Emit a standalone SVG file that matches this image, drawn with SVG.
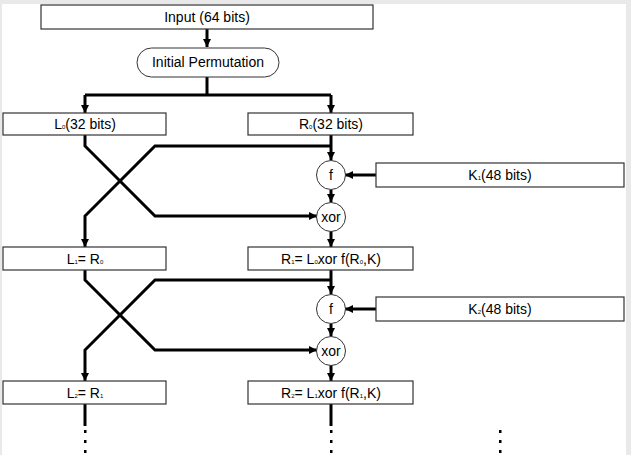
<svg xmlns="http://www.w3.org/2000/svg" width="631" height="455" viewBox="0 0 631 455">
  <style>
    .box { fill: #ffffff; stroke: #333333; stroke-width: 1.2; }
    .op { fill: #ffffff; stroke: #333333; stroke-width: 1; }
    .lbl { font-family: "Liberation Sans", Arial, sans-serif; font-size: 14px; fill: #000000; text-anchor: middle; }
    .sub { font-size: 6px; }
    .wire { fill: none; stroke: #000000; stroke-width: 3; stroke-linejoin: miter; }
    .dot { fill: #000000; }
  </style>
  <defs>
    <marker id="arrow" viewBox="0 0 8 8" refX="8" refY="4" markerWidth="8" markerHeight="8" markerUnits="userSpaceOnUse" orient="auto">
      <path d="M0,0 L8,4 L0,8 z" fill="#000000"/>
    </marker>
  </defs>

  <!-- page frame -->
  <rect x="0" y="0" width="631" height="455" fill="#e9e9e9"/>
  <rect x="2" y="4" width="624" height="451" fill="#ffffff"/>

  <!-- connectors -->
  <g id="connectors">
    <path class="wire" d="M207,29 V47" marker-end="url(#arrow)"/>
    <path class="wire" d="M207,77 V95 M85,95 H331"/>
    <path class="wire" d="M85,95 V113" marker-end="url(#arrow)"/>
    <path class="wire" d="M331,95 V113" marker-end="url(#arrow)"/>

    <!-- round 1 -->
    <path class="wire" d="M331,135 V160" marker-end="url(#arrow)"/>
    <path class="wire" d="M331,146 H155 L85,216 V247" marker-end="url(#arrow)"/>
    <path class="wire" d="M85,135 V146 L155,216 H317" marker-end="url(#arrow)"/>
    <path class="wire" d="M376,175 H345" marker-end="url(#arrow)"/>
    <path class="wire" d="M331,190 V202" marker-end="url(#arrow)"/>
    <path class="wire" d="M331,231 V247" marker-end="url(#arrow)"/>

    <!-- round 2 -->
    <path class="wire" d="M331,270 V294" marker-end="url(#arrow)"/>
    <path class="wire" d="M331,280 H155 L85,350 V381" marker-end="url(#arrow)"/>
    <path class="wire" d="M85,270 V280 L155,350 H317" marker-end="url(#arrow)"/>
    <path class="wire" d="M376,309 H345" marker-end="url(#arrow)"/>
    <path class="wire" d="M331,324 V336" marker-end="url(#arrow)"/>
    <path class="wire" d="M331,365 V381" marker-end="url(#arrow)"/>

    <!-- continuation -->
    <path class="wire" d="M85,404 V426 M331,404 V426"/>
  </g>

  <g id="continuation-dots">
    <rect class="dot" x="84" y="430" width="2.5" height="3"/>
    <rect class="dot" x="84" y="440" width="2.5" height="3"/>
    <rect class="dot" x="84" y="450" width="2.5" height="3"/>
    <rect class="dot" x="330" y="430" width="2.5" height="3"/>
    <rect class="dot" x="330" y="440" width="2.5" height="3"/>
    <rect class="dot" x="330" y="450" width="2.5" height="3"/>
    <rect class="dot" x="499" y="430" width="2.5" height="3"/>
    <rect class="dot" x="499" y="440" width="2.5" height="3"/>
    <rect class="dot" x="499" y="450" width="2.5" height="3"/>
  </g>

  <g id="input">
    <rect class="box" x="41" y="5" width="332" height="24"/>
    <text class="lbl" x="207" y="22">Input (64 bits)</text>
  </g>

  <g id="initial-permutation">
    <rect class="op" x="137" y="48" width="142" height="29" rx="14.5" ry="14.5"/>
    <text class="lbl" x="208" y="67">Initial Permutation</text>
  </g>

  <g id="L0">
    <rect class="box" x="3" y="113" width="163" height="22"/>
    <text class="lbl" x="85" y="129">L<tspan class="sub">0</tspan>(32 bits)</text>
  </g>

  <g id="R0">
    <rect class="box" x="248" y="113" width="165" height="22"/>
    <text class="lbl" x="331" y="129">R<tspan class="sub">0</tspan>(32 bits)</text>
  </g>

  <g id="f1">
    <circle class="op" cx="331" cy="175" r="14.5"/>
    <text class="lbl" x="331" y="180">f</text>
  </g>

  <g id="K1">
    <rect class="box" x="376" y="163" width="248" height="24"/>
    <text class="lbl" x="500" y="180">K<tspan class="sub">1</tspan>(48 bits)</text>
  </g>

  <g id="xor1">
    <circle class="op" cx="331" cy="217" r="14.5"/>
    <text class="lbl" x="331" y="222">xor</text>
  </g>

  <g id="L1">
    <rect class="box" x="3" y="247" width="163" height="23"/>
    <text class="lbl" x="85" y="264">L<tspan class="sub">1</tspan>= R<tspan class="sub">0</tspan></text>
  </g>

  <g id="R1">
    <rect class="box" x="248" y="247" width="165" height="23"/>
    <text class="lbl" x="331" y="264">R<tspan class="sub">1</tspan>= L<tspan class="sub">0</tspan>xor f(R<tspan class="sub">0</tspan>,K)</text>
  </g>

  <g id="f2">
    <circle class="op" cx="331" cy="309" r="14.5"/>
    <text class="lbl" x="331" y="314">f</text>
  </g>

  <g id="K2">
    <rect class="box" x="376" y="297" width="248" height="24"/>
    <text class="lbl" x="500" y="314">K<tspan class="sub">2</tspan>(48 bits)</text>
  </g>

  <g id="xor2">
    <circle class="op" cx="331" cy="351" r="14.5"/>
    <text class="lbl" x="331" y="356">xor</text>
  </g>

  <g id="L2">
    <rect class="box" x="3" y="381" width="163" height="23"/>
    <text class="lbl" x="85" y="398">L<tspan class="sub">2</tspan>= R<tspan class="sub">1</tspan></text>
  </g>

  <g id="R2">
    <rect class="box" x="248" y="381" width="165" height="23"/>
    <text class="lbl" x="331" y="398">R<tspan class="sub">2</tspan>= L<tspan class="sub">1</tspan>xor f(R<tspan class="sub">1</tspan>,K)</text>
  </g>
</svg>
